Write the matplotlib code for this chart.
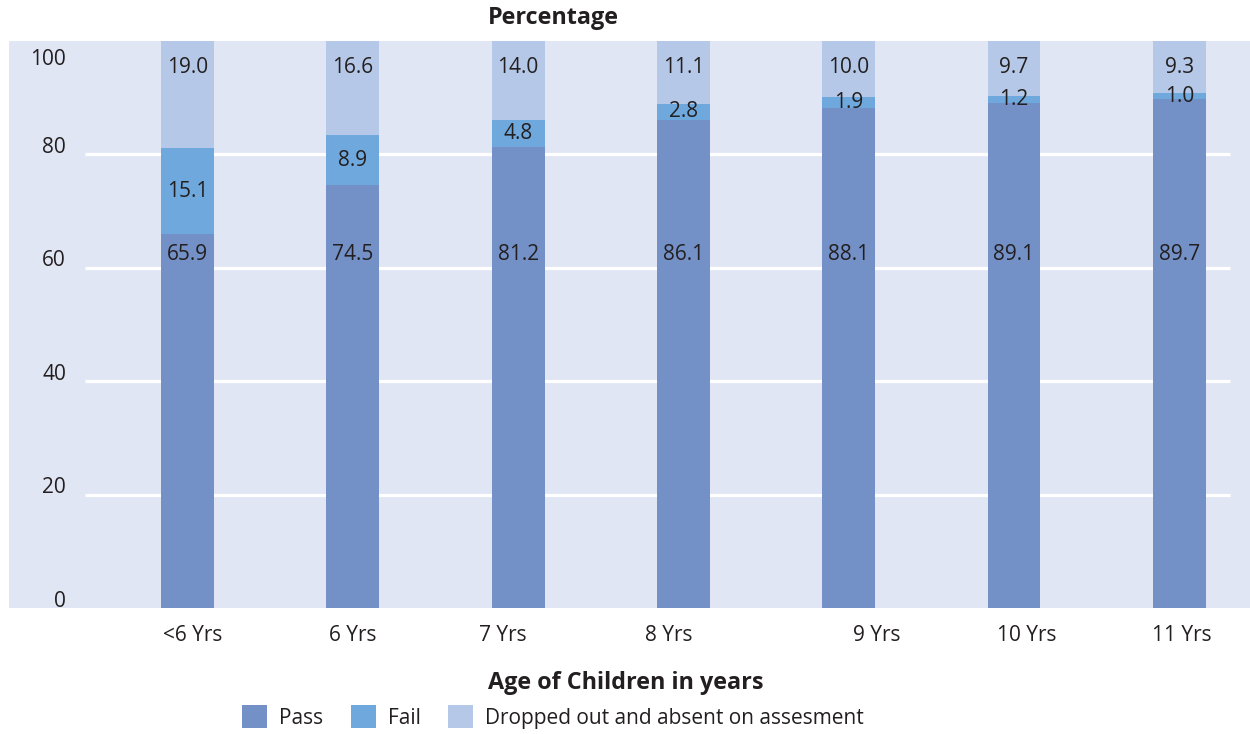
import matplotlib
matplotlib.use("Agg")
import matplotlib.pyplot as plt
import matplotlib.transforms as mtransforms
from matplotlib.patches import Patch
import numpy as np

plt.rcParams['font.family'] = ['Open Sans', 'DejaVu Sans']

# Data
categories = ["<6 Yrs", "6 Yrs", "7 Yrs", "8 Yrs", "9 Yrs", "10 Yrs", "11 Yrs"]
pass_pct = [65.9, 74.5, 81.2, 86.1, 88.1, 89.1, 89.7]
fail_pct = [15.1, 8.9, 4.8, 2.8, 1.9, 1.2, 1.0]
dropped_pct = [19.0, 16.6, 14.0, 11.1, 10.0, 9.7, 9.3]
series_names = ["Pass", "Fail", "Dropped out and absent on assesment"]
y_ticks = [0, 20, 40, 60, 80, 100]

# Styling
c_pass = "#7390c7"
c_fail = "#6fa8dc"
c_drop = "#b5c8e7"
c_bg = "#e0e6f3"
c_text = "#231f20"
fs = 15
fs_bold = 16.8

W, H = 1250, 734
fig = plt.figure(figsize=(W / 100, H / 100), dpi=100)
ax = fig.add_axes([9 / W, (H - 608) / H, (W - 9) / W, (608 - 40.7) / H])
ax.set_facecolor(c_bg)
for s in ax.spines.values():
    s.set_visible(False)

x = np.arange(len(categories))
ax.set_xlim(-1.08, 6.428)
ax.set_ylim(0, 100)

# White gridlines behind the bars
ax.hlines([20, 40, 60, 80], -0.62, 6.31, colors="white", linewidth=2.3, zorder=1)

bw = 0.32
p = np.array(pass_pct)
f = np.array(fail_pct)
d = np.array(dropped_pct)
ax.bar(x, p, width=bw, color=c_pass, zorder=2)
ax.bar(x, f, width=bw, bottom=p, color=c_fail, zorder=2)
ax.bar(x, d, width=bw, bottom=p + f, color=c_drop, zorder=2)

# Value labels
for i in range(len(categories)):
    ax.text(x[i], 62.4, f"{p[i]:.1f}", ha="center", va="center", fontsize=fs, color=c_text, zorder=3)
    ax.text(x[i], p[i] + f[i] / 2, f"{f[i]:.1f}", ha="center", va="center", fontsize=fs, color=c_text, zorder=3)
    ax.text(x[i], 95.2, f"{d[i]:.1f}", ha="center", va="center", fontsize=fs, color=c_text, zorder=3)

# Y tick labels
ax.set_yticks([])
ytrans = mtransforms.blended_transform_factory(ax.transAxes, ax.transData)
for t in y_ticks:
    dy = -13.5 if t == 100 else 4.8
    ax.text(0.046, t, str(t), ha="right", va="center", fontsize=fs, color=c_text,
            transform=ytrans + mtransforms.ScaledTranslation(0, dy / 72, fig.dpi_scale_trans))

# X tick labels (slightly staggered positions)
label_shift = [0.03, 0.0, -0.09, -0.09, 0.17, 0.08, 0.015]
ax.set_xticks(x + np.array(label_shift))
ax.set_xticklabels(categories, fontsize=fs, color=c_text)
ax.tick_params(axis="x", length=0, pad=12)

# Titles
fig.text(553 / W, 1 - 18 / H, "Percentage", ha="center", va="center",
         fontsize=fs_bold, fontweight="bold", color=c_text)
fig.text(626 / W, 1 - 683 / H, "Age of Children in years", ha="center", va="center",
         fontsize=fs_bold, fontweight="bold", color=c_text)

# Legend
handles = [Patch(facecolor=c, edgecolor="none") for c in (c_pass, c_fail, c_drop)]
fig.legend(handles, series_names, loc="center", bbox_to_anchor=(553 / W, 1 - 717 / H),
           ncol=3, frameon=False, fontsize=fs, handlelength=1.2, handleheight=1.3,
           handletextpad=0.6, columnspacing=1.3, labelcolor=c_text)

fig.savefig("out.png", dpi=100, facecolor="white")
